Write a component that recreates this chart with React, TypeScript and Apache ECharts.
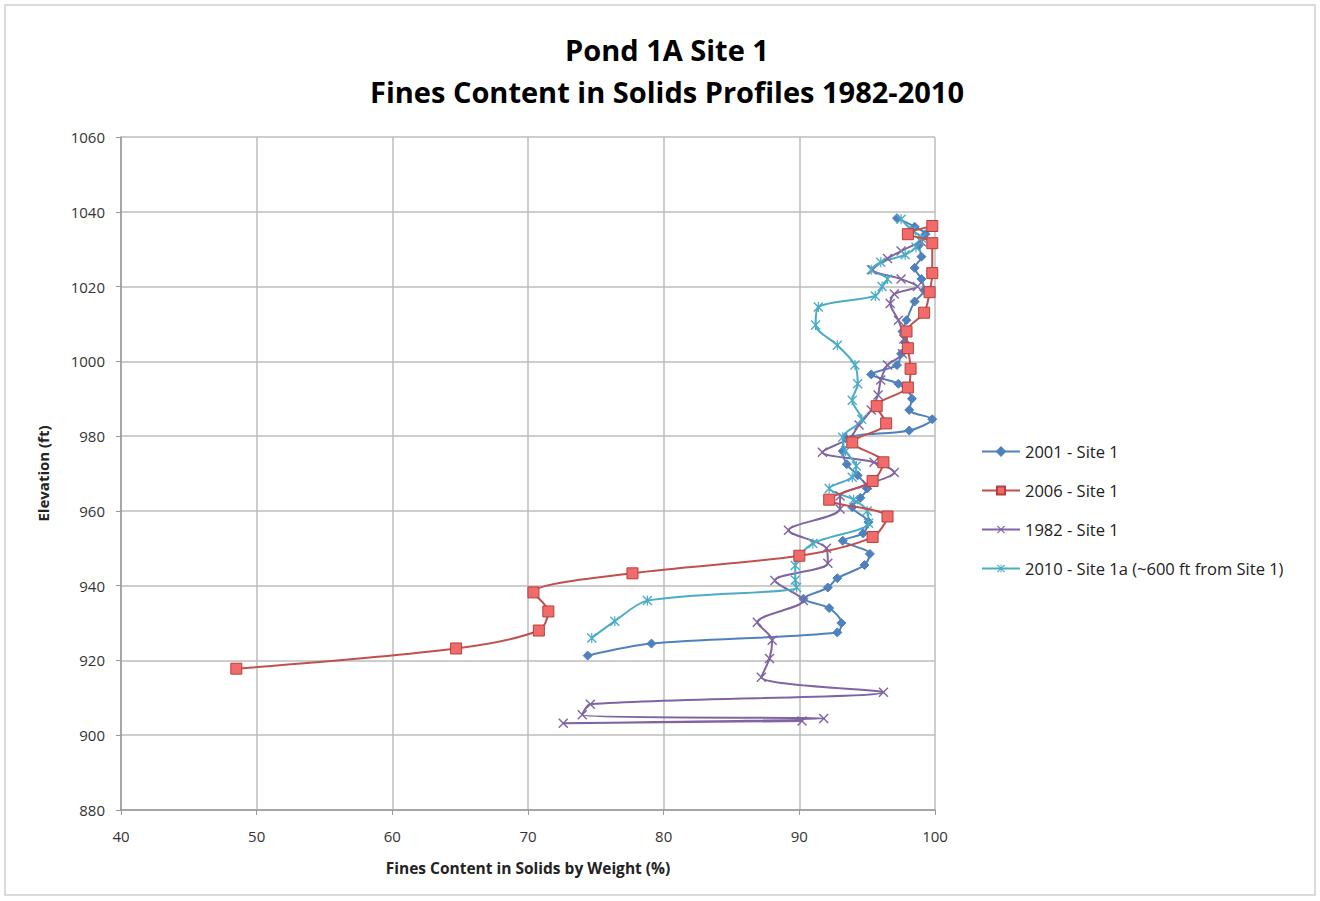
import React, { useEffect, useRef } from "react";
import * as echarts from "echarts";

const titleLines = ["Pond 1A Site 1", "Fines Content in Solids Profiles 1982-2010"];
const xAxisName = "Fines Content in Solids by Weight (%)";
const yAxisName = "Elevation (ft)";
const seriesNames = ["2001 - Site 1", "2006 - Site 1", "1982 - Site 1", "2010 - Site 1a (~600 ft from Site 1)"];

const fines2001 = [97.2, 98.5, 99.3, 98.8, 99.0, 98.5, 99.0, 99.2, 98.5, 97.9, 97.6, 97.8, 97.5, 97.2, 95.3, 97.3, 98.3, 98.1, 99.8, 98.1, 93.4, 93.2, 93.5, 94.3, 95.0, 94.5, 93.9, 95.1, 94.7, 93.2, 95.2, 94.8, 92.8, 92.1, 90.3, 92.2, 93.1, 92.8, 79.1, 74.4];
const elev2001 = [1038.3, 1036, 1034, 1031, 1028, 1025, 1022, 1019, 1016, 1011, 1008, 1005, 1002, 999, 996.5, 994, 990, 987, 984.5, 981.5, 979.5, 976, 972.5, 969.5, 966, 963.5, 961, 957, 954, 952, 948.5, 945.5, 942, 939.5, 936.5, 934, 930, 927.5, 924.5, 921.3];

const fines2006 = [99.8, 98.0, 99.8, 99.8, 99.6, 99.2, 97.9, 98.0, 98.2, 98.0, 95.7, 96.4, 93.9, 96.2, 95.4, 92.2, 96.5, 95.4, 90.0, 77.7, 70.4, 71.5, 70.8, 64.7, 48.5];
const elev2006 = [1036.2, 1034, 1031.6, 1023.6, 1018.5, 1013, 1008, 1003.5, 998, 993, 988, 983.4, 978.3, 973, 968, 963, 958.5, 953, 948, 943.3, 938.2, 933.1, 928, 923.2, 917.8];

const fines1982 = [99.0, 97.5, 96.5, 95.4, 97.5, 98.7, 97.0, 96.7, 97.3, 97.7, 97.6, 96.5, 96.0, 95.8, 95.3, 94.4, 93.7, 91.7, 95.5, 97.0, 95.0, 93.0, 93.0, 89.2, 92.0, 92.1, 88.2, 90.3, 86.9, 88.0, 87.8, 87.2, 96.2, 74.6, 74.0, 91.8, 72.6, 90.2];
const elev1982 = [1032, 1029.5, 1027.5, 1024.5, 1022, 1020, 1018, 1015.5, 1011, 1006, 1002, 999, 995, 991, 987, 983, 979.5, 975.7, 973, 970.3, 967, 964, 960.5, 954.8, 950, 946, 941.4, 936, 930.2, 925.4, 920.5, 915.5, 911.5, 908.3, 905.5, 904.5, 903.2, 903.8];

const fines2010 = [97.5, 98.3, 99.0, 98.6, 97.8, 96.0, 95.3, 96.5, 96.1, 95.6, 91.4, 91.2, 92.8, 94.1, 94.3, 93.9, 94.6, 93.2, 93.4, 94.2, 93.9, 92.2, 94.0, 95.0, 95.1, 91.0, 89.7, 89.7, 89.8, 78.8, 76.4, 74.7];
const elev2010 = [1038, 1035, 1033, 1030.5, 1028.5, 1026.5, 1024.5, 1022, 1020, 1017.5, 1014.5, 1009.7, 1004.3, 999, 994, 989.6, 984.5, 979.7, 976, 972, 969, 966, 963, 960, 956.7, 951.3, 945.4, 941.5, 939.5, 936, 930.5, 926];

const xTicks = { min: 40, max: 100, interval: 10 };
const yTicks = { min: 880, max: 1060, interval: 20 };

const colors = ["#4F81BD", "#C0504D", "#8064A2", "#4BACC6"];
const X_PATH = "path://M0,1L1,0L5,4L9,0L10,1L6,5L10,9L9,10L5,6L1,10L0,9L4,5Z";
const STAR_PATH = "path://M0,1L1,0L5,4L9,0L10,1L6,5L10,9L9,10L5,6L1,10L0,9L4,5ZM4.4,0L5.6,0L5.6,10L4.4,10Z";

function zip(xs: number[], ys: number[]) {
  return xs.map((x, i) => [x, ys[i]]);
}

export default function App() {
  const ref = useRef<HTMLDivElement>(null);
  useEffect(() => {
    if (!ref.current) return;
    const chart = echarts.init(ref.current, null, { renderer: "svg" });
    const font = "'Open Sans', 'Liberation Sans', sans-serif";
    const symbols = ["diamond", "rect", X_PATH, STAR_PATH];
    const sizes = [9, 11, 10, 10];
    const datas = [zip(fines2001, elev2001), zip(fines2006, elev2006), zip(fines1982, elev1982), zip(fines2010, elev2010)];
    chart.setOption({
      animation: false,
      backgroundColor: "#ffffff",
      title: {
        text: titleLines.join("\n"),
        left: 662,
        top: 23,
        textAlign: "center",
        textStyle: { fontFamily: font, fontSize: 29, fontWeight: "bold", color: "#000", lineHeight: 42 },
      },
      legend: {
        orient: "vertical",
        left: 976,
        top: 438,
        itemGap: 22,
        itemWidth: 38,
        itemHeight: 10,
        textStyle: { fontFamily: font, fontSize: 16.5, color: "#222" },
        data: seriesNames,
      },
      graphic: [
        {
          type: "rect",
          shape: { x: 5, y: 5, width: 1310, height: 890 },
          style: { fill: "none", stroke: "#cfcfcf", lineWidth: 1.5 },
        },
      ],
      grid: { left: 121, top: 137, width: 814, height: 673, containLabel: false },
      xAxis: {
        type: "value",
        ...xTicks,
        name: xAxisName,
        nameLocation: "middle",
        nameGap: 50,
        nameTextStyle: { fontFamily: font, fontSize: 15.5, fontWeight: "bold", color: "#222" },
        axisLine: { show: true, lineStyle: { color: "#999", width: 1.5 } },
        axisTick: { show: true, length: 5, lineStyle: { color: "#999" } },
        axisLabel: { fontFamily: font, fontSize: 15, color: "#333", margin: 18, formatter: (v: number) => String(v) },
        splitLine: { show: true, lineStyle: { color: "#bdbdbd", width: 1.5 } },
      },
      yAxis: {
        type: "value",
        ...yTicks,
        name: yAxisName,
        nameLocation: "middle",
        nameGap: 71,
        nameRotate: 90,
        nameTextStyle: { fontFamily: font, fontSize: 15, fontWeight: "bold", color: "#222" },
        axisLine: { show: true, lineStyle: { color: "#999", width: 1.5 } },
        axisTick: { show: true, length: 5, lineStyle: { color: "#999" } },
        axisLabel: { fontFamily: font, fontSize: 15, color: "#333", margin: 16, formatter: (v: number) => String(v) },
        splitLine: { show: true, lineStyle: { color: "#bdbdbd", width: 1.5 } },
      },
      series: seriesNames.map((name, i) => ({
        name,
        type: "line",
        data: datas[i],
        smooth: 0.3,
        symbol: symbols[i],
        symbolSize: sizes[i],
        showAllSymbol: true,
        lineStyle: { color: colors[i], width: 2 },
        itemStyle:
          i === 1
            ? { color: "#F26B6B", borderColor: "#B4403D", borderWidth: 1 }
            : { color: colors[i], borderColor: colors[i], borderWidth: i === 0 ? 1 : 0 },
        z: i === 1 ? 3 : 2,
      })),
    });
    return () => chart.dispose();
  }, []);
  return (
    <div
      ref={ref}
      style={{ position: "fixed", left: 0, top: 0, width: 1320, height: 901, background: "#fff" }}
    />
  );
}
